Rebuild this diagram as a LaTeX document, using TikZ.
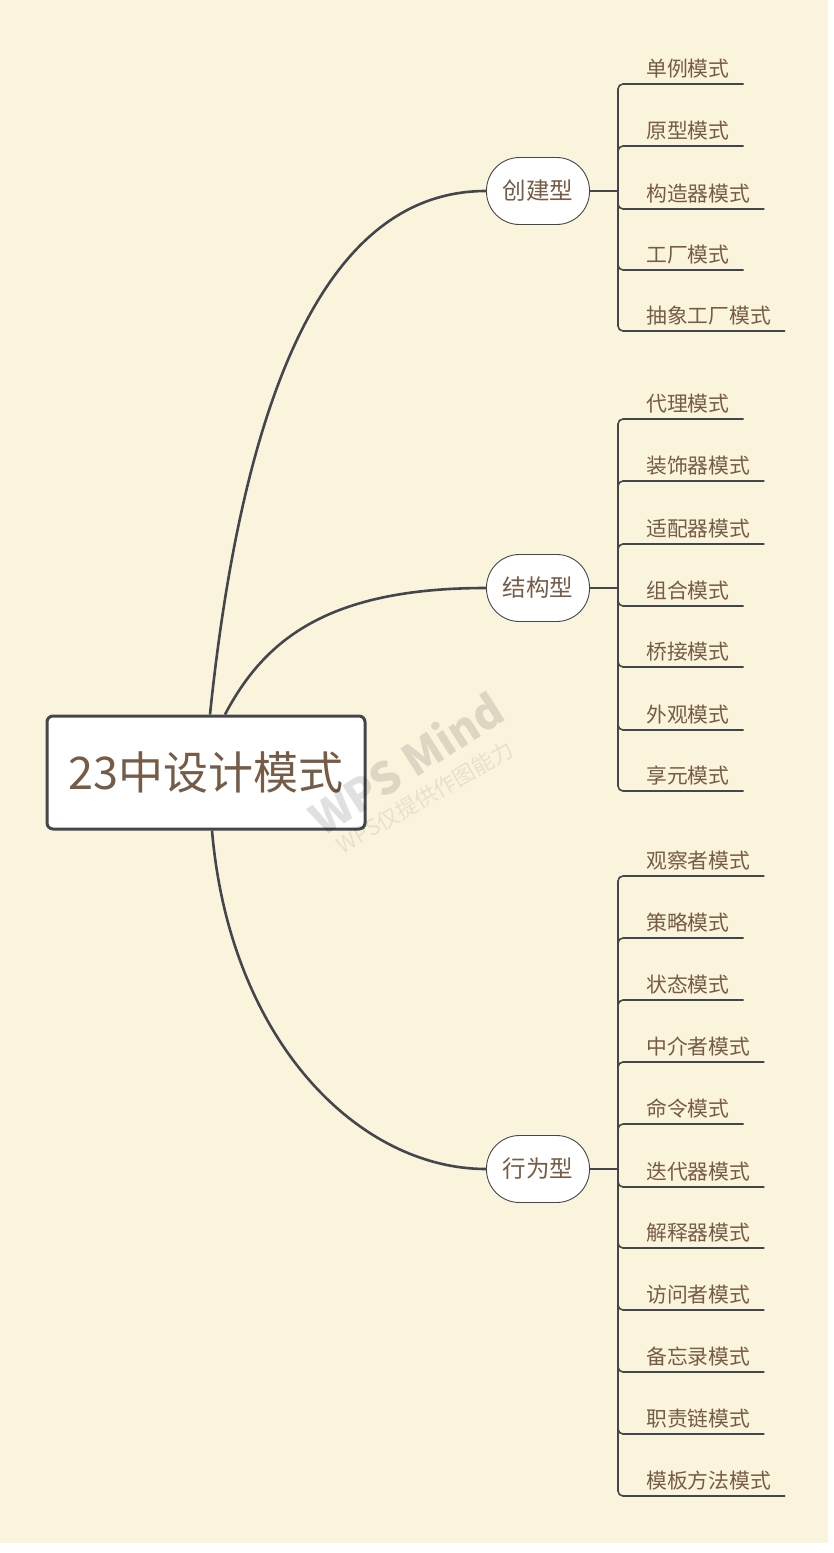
\documentclass[tikz,border=0pt]{standalone}
\usepackage{fontspec}
\setmainfont{Noto Sans CJK SC}
\definecolor{paper}{HTML}{FBF4DD}
\definecolor{ink}{HTML}{765C47}
\definecolor{wire}{HTML}{43474C}

\begin{document}
\begin{tikzpicture}[x=1pt,y=-1pt,
    rootbox/.style={draw=wire, line width=3pt, fill=white, rounded corners=6pt,
        minimum width=318pt, minimum height=113pt, text=ink,
        font=\fontsize{45}{50}\selectfont},
    kindbox/.style={draw=wire, line width=0.9pt, fill=white, rounded corners=33pt,
        minimum width=103pt, minimum height=67pt, text=ink,
        font=\fontsize{23.5}{27}\selectfont},
    leaf/.style={anchor=base west, inner sep=0pt, text=ink,
        font=\fontsize{20.8}{24}\selectfont},
    limb/.style={draw=wire, line width=2.6pt},
    stem/.style={draw=wire, line width=1.6pt},
    twig/.style={draw=wire, line width=1.6pt, rounded corners=5pt},
    stamp/.style={text=black, opacity=0.12}]
            \fill [white] (0,0) rectangle (833,1553);
            \fill [paper] (0,0) rectangle (828,1543);
            % centre and the three kinds
            \node [rootbox] (root) at (206,772.5) {23中设计模式};
            \node [kindbox] (cj) at (538,191) {创建型};
            \node [kindbox] (jg) at (538,588) {结构型};
            \node [kindbox] (xw) at (538,1169) {行为型};
            \draw [limb] ([xshift=4pt]root.north) .. controls +(40,-386) and +(-132,0) .. (cj.west);
            \draw [limb] ([xshift=19pt]root.north) .. controls +(40,-76) and +(-157,0) .. (jg.west);
            \draw [limb] ([xshift=6pt]root.south) .. controls +(18,211) and +(-127,0) .. (xw.west);
            \coordinate (cjx) at (618,191);
            \coordinate (jgx) at (618,588);
            \coordinate (xwx) at (618,1169);
            \draw [stem] (cj.east) -- (cjx);
            \draw [stem] (jg.east) -- (jgx);
            \draw [stem] (xw.east) -- (xwx);
            % creational
            \node [leaf] (c1) at (646,76) {单例模式};
            \node [leaf] (c2) at (646,138) {原型模式};
            \node [leaf] (c3) at (646,201) {构造器模式};
            \node [leaf] (c4) at (646,262) {工厂模式};
            \node [leaf] (c5) at (646,323) {抽象工厂模式};
            \draw [twig] (cjx) |- ([shift={(14pt,-8pt)}]c1.base east);
            \draw [twig] (cjx) |- ([shift={(14pt,-8pt)}]c2.base east);
            \draw [twig] (cjx) |- ([shift={(14pt,-8pt)}]c3.base east);
            \draw [twig] (cjx) |- ([shift={(14pt,-8pt)}]c4.base east);
            \draw [twig] (cjx) |- ([shift={(14pt,-8pt)}]c5.base east);
            % structural
            \node [leaf] (s1) at (646,411) {代理模式};
            \node [leaf] (s2) at (646,473) {装饰器模式};
            \node [leaf] (s3) at (646,536) {适配器模式};
            \node [leaf] (s4) at (646,598) {组合模式};
            \node [leaf] (s5) at (646,659) {桥接模式};
            \node [leaf] (s6) at (646,722) {外观模式};
            \node [leaf] (s7) at (646,783) {享元模式};
            \draw [twig] (jgx) |- ([shift={(14pt,-8pt)}]s1.base east);
            \draw [twig] (jgx) |- ([shift={(14pt,-8pt)}]s2.base east);
            \draw [twig] (jgx) |- ([shift={(14pt,-8pt)}]s3.base east);
            \draw [twig] (jgx) |- ([shift={(14pt,-8pt)}]s4.base east);
            \draw [twig] (jgx) |- ([shift={(14pt,-8pt)}]s5.base east);
            \draw [twig] (jgx) |- ([shift={(14pt,-8pt)}]s6.base east);
            \draw [twig] (jgx) |- ([shift={(14pt,-8pt)}]s7.base east);
            % behavioural
            \node [leaf] (b1) at (646,868) {观察者模式};
            \node [leaf] (b2) at (646,930) {策略模式};
            \node [leaf] (b3) at (646,992) {状态模式};
            \node [leaf] (b4) at (646,1054) {中介者模式};
            \node [leaf] (b5) at (646,1116) {命令模式};
            \node [leaf] (b6) at (646,1179) {迭代器模式};
            \node [leaf] (b7) at (646,1240) {解释器模式};
            \node [leaf] (b8) at (646,1302) {访问者模式};
            \node [leaf] (b9) at (646,1364) {备忘录模式};
            \node [leaf] (b10) at (646,1426) {职责链模式};
            \node [leaf] (b11) at (646,1488) {模板方法模式};
            \draw [twig] (xwx) |- ([shift={(14pt,-8pt)}]b1.base east);
            \draw [twig] (xwx) |- ([shift={(14pt,-8pt)}]b2.base east);
            \draw [twig] (xwx) |- ([shift={(14pt,-8pt)}]b3.base east);
            \draw [twig] (xwx) |- ([shift={(14pt,-8pt)}]b4.base east);
            \draw [twig] (xwx) |- ([shift={(14pt,-8pt)}]b5.base east);
            \draw [twig] (xwx) |- ([shift={(14pt,-8pt)}]b6.base east);
            \draw [twig] (xwx) |- ([shift={(14pt,-8pt)}]b7.base east);
            \draw [twig] (xwx) |- ([shift={(14pt,-8pt)}]b8.base east);
            \draw [twig] (xwx) |- ([shift={(14pt,-8pt)}]b9.base east);
            \draw [twig] (xwx) |- ([shift={(14pt,-8pt)}]b10.base east);
            \draw [twig] (xwx) |- ([shift={(14pt,-8pt)}]b11.base east);
            % watermark
            \node [stamp, rotate=32.7, font=\fontsize{44}{48}\selectfont\bfseries] (wm1) at (406,763) {WPS Mind};
            \node [stamp, opacity=0.08, rotate=30, font=\fontsize{22}{26}\selectfont] (wm2) at (425,797) {WPS仅提供作图能力};
        \end{tikzpicture}
\end{document}
